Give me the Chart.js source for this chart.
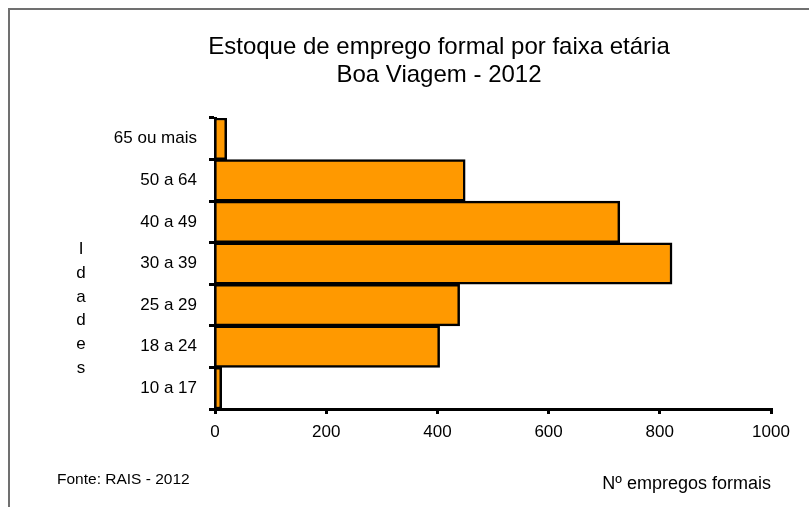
<!DOCTYPE html>
<html>
<head>
<meta charset="utf-8">
<script src="https://cdn.jsdelivr.net/npm/chart.js@4.4.1/dist/chart.umd.min.js"></script>
<style>
  html, body { margin: 0; padding: 0; background: #fff; }
  #wrap { position: relative; width: 809px; height: 507px; }
</style>
</head>
<body>
<div id="wrap"><canvas id="chart"></canvas></div>
<script>
// Dados - estoque de emprego formal por faixa etária, Boa Viagem 2012
const faixas = ['65 ou mais', '50 a 64', '40 a 49', '30 a 39', '25 a 29', '18 a 24', '10 a 17'];
const empregos = [21, 450, 728, 822, 440, 404, 12];
const tituloLinhas = ['Estoque de emprego formal por faixa etária', 'Boa Viagem - 2012'];
const eixoY = 'Idades';
const eixoX = 'Nº empregos formais';
const fonte = 'Fonte: RAIS - 2012';

const FONT = '"Liberation Sans", Arial, sans-serif';

// Textos extras (moldura, "Idades" vertical e fonte)
const extras = {
    id: 'extras',
    beforeDraw(chart) {
        const ctx = chart.ctx;
        ctx.save();
        ctx.strokeStyle = '#707070';
        ctx.lineWidth = 2;
        ctx.beginPath();
        ctx.moveTo(9, chart.height);
        ctx.lineTo(9, 9);
        ctx.lineTo(chart.width, 9);
        ctx.stroke();
        ctx.restore();
    },
    afterDraw(chart) {
        const ctx = chart.ctx;
        ctx.save();
        ctx.fillStyle = '#000';
        ctx.textAlign = 'center';
        ctx.textBaseline = 'alphabetic';
        ctx.font = '17px ' + FONT;
        eixoY.split('').forEach((ch, i) => {
            ctx.fillText(ch, 81, 254 + i * 23.8);
        });
        ctx.textAlign = 'left';
        ctx.textBaseline = 'middle';
        ctx.font = '15.5px ' + FONT;
        ctx.fillText(fonte, 57, 480);
        ctx.restore();
    }
};

new Chart(document.getElementById('chart'), {
    type: 'bar',
    data: {
        labels: faixas,
        datasets: [{
            data: empregos,
            backgroundColor: '#FF9900',
            borderColor: '#000',
            borderWidth: 2.5,
            barPercentage: 1,
            categoryPercentage: 1
        }]
    },
    options: {
        indexAxis: 'y',
        responsive: true,
        maintainAspectRatio: false,
        animation: false,
        layout: { padding: { left: 107, right: 38, top: 0, bottom: 0 } },
        plugins: {
            legend: { display: false },
            tooltip: { enabled: false },
            title: {
                display: true,
                text: tituloLinhas,
                color: '#000',
                font: { family: FONT, size: 24, weight: 'normal', lineHeight: 1.2 },
                padding: { top: 32.6, bottom: 27.8 }
            }
        },
        scales: {
            x: {
                min: 0,
                max: 1000,
                ticks: {
                    stepSize: 200,
                    color: '#000',
                    font: { family: FONT, size: 17 },
                    padding: 8,
                    maxRotation: 0,
                    callback: (v) => String(v)
                },
                grid: {
                    drawOnChartArea: false,
                    color: '#000',
                    tickLength: 5,
                    lineWidth: 3
                },
                border: { color: '#000', width: 3 },
                title: {
                    display: true,
                    text: eixoX,
                    align: 'end',
                    color: '#000',
                    font: { family: FONT, size: 18 },
                    padding: { top: 0, bottom: 12 }
                },
                afterFit(scale) { scale.height = 98; }
            },
            y: {
                ticks: {
                    color: '#000',
                    font: { family: FONT, size: 17 },
                    padding: 12
                },
                grid: {
                    drawOnChartArea: false,
                    offset: true,
                    color: '#000',
                    tickLength: 6,
                    lineWidth: 3
                },
                border: { color: '#000', width: 3 },
                afterFit(scale) { scale.width = 108; }
            }
        }
    },
    plugins: [extras]
});
</script>
</body>
</html>
